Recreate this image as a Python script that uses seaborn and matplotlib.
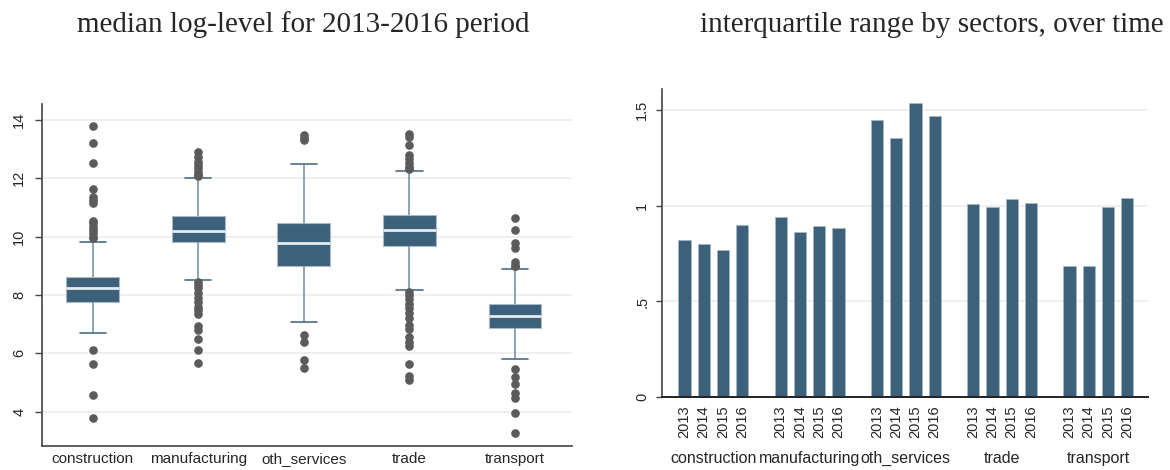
import numpy as np
import pandas as pd
import matplotlib
matplotlib.use("Agg")
import matplotlib.pyplot as plt
import matplotlib.transforms as mtransforms
import seaborn as sns

# ---------------- data ----------------
sectors = ["construction", "manufacturing", "oth_services", "trade", "transport"]
years = ["2013", "2014", "2015", "2016"]

# left panel: box-plot summaries of median log-level (2013-2016)
q1 = [7.77, 9.83, 8.98, 9.69, 6.86]
medians = [8.23, 10.21, 9.77, 10.23, 7.27]
q3 = [8.63, 10.72, 10.47, 10.73, 7.70]
whisker_lo = [6.69, 8.50, 7.07, 8.17, 5.79]
whisker_hi = [9.81, 12.00, 12.48, 12.24, 8.88]
outliers_construction = [13.81, 13.21, 12.51, 11.63, 11.37, 11.26, 11.14, 10.55, 10.46,
                         10.34, 10.23, 10.11, 10.00, 9.95, 6.11, 5.63, 4.58, 3.79]
outliers_manufacturing = [12.89, 12.74, 12.57, 12.46, 12.34, 12.23, 12.12, 12.08,
                          8.46, 8.34, 8.23, 8.06, 7.91, 7.77, 7.60, 7.47, 7.34, 6.95,
                          6.80, 6.48, 6.11, 5.68]
outliers_oth_services = [13.49, 13.37, 13.31, 6.64, 6.39, 5.77, 5.50]
outliers_trade = [13.51, 13.43, 13.14, 12.80, 12.65, 12.51, 12.40, 12.35, 12.31,
                  8.10, 8.00, 7.85, 7.69, 7.54, 7.37, 7.20, 6.96, 6.82, 6.55, 6.40,
                  6.25, 5.62, 5.23, 5.09]
outliers_transport = [10.63, 10.23, 9.79, 9.60, 9.12, 9.01, 8.99,
                      5.47, 5.20, 4.95, 4.63, 4.46, 3.97, 3.28]
outliers = [outliers_construction, outliers_manufacturing, outliers_oth_services,
            outliers_trade, outliers_transport]

# right panel: interquartile range by sector and year
iqr_construction = [0.82, 0.80, 0.77, 0.90]
iqr_manufacturing = [0.94, 0.865, 0.895, 0.885]
iqr_oth_services = [1.445, 1.355, 1.538, 1.468]
iqr_trade = [1.01, 0.995, 1.033, 1.015]
iqr_transport = [0.685, 0.687, 0.995, 1.038]
iqr_values = [iqr_construction, iqr_manufacturing, iqr_oth_services, iqr_trade, iqr_transport]

left_ticks = [4, 6, 8, 10, 12, 14]
left_ticklabels = ["4", "6", "8", "10", "12", "14"]
right_ticks = [0, 0.5, 1, 1.5]
right_ticklabels = ["0", ".5", "1", "1.5"]

left_title = "median log-level for 2013-2016 period"
right_title = "interquartile range by sectors, over time"

# ---------------- build tables ----------------
# sample reproducing the summary statistics
K = 200
rows = []
for s, name in enumerate(sectors):
    vals = ([whisker_lo[s]] + [q1[s]] * K + [medians[s]] * K + [q3[s]] * K
            + [whisker_hi[s]] + list(outliers[s]))
    rows += [(name, v) for v in vals]
box_df = pd.DataFrame(rows, columns=["sector", "value"])

bar_rows = []
for g, name in enumerate(sectors):
    for i, yr in enumerate(years):
        bar_rows.append((5 * g + i, name, yr, iqr_values[g][i]))
bar_df = pd.DataFrame(bar_rows, columns=["pos", "sector", "year", "iqr"])

# ---------------- style ----------------
sns.set_theme(style="white")
plt.rcParams["font.family"] = ["Liberation Sans", "DejaVu Sans"]

BOX = "#3d617b"
GRID = "#ebebeb"
SPINE = "#444444"

fig = plt.figure(figsize=(11.7, 4.7), dpi=100)
W, H = 1170, 470

def axes_px(x0, y0, x1, y1):
    return fig.add_axes([x0 / W, 1 - y1 / H, (x1 - x0) / W, (y1 - y0) / H])

# ---------------- left: boxplot ----------------
ax1 = axes_px(41.5, 104, 572, 445.5)
ax1.set_axisbelow(True)
for t in left_ticks:
    ax1.axhline(t, color=GRID, lw=1.1, zorder=0)
sns.boxplot(data=box_df, x="sector", y="value", order=sectors, color=BOX,
            saturation=1, width=0.5, ax=ax1,
            boxprops=dict(facecolor=BOX, edgecolor="#a8bac8", linewidth=0.8),
            medianprops=dict(color="#e6ecf0", linewidth=2.0),
            whiskerprops=dict(color="#7a93a7", linewidth=1.2),
            capprops=dict(color="#4d6d86", linewidth=1.2),
            flierprops=dict(marker="o", markerfacecolor="#5b5b5b",
                            markeredgecolor="#5b5b5b", markersize=5.2))
ax1.set_xlim(-0.485, 4.54)
ax1.set_ylim(2.84, 14.55)
ax1.set_yticks(left_ticks)
ax1.set_yticklabels(left_ticklabels)
ax1.set_xlabel("")
ax1.set_ylabel("")
ax1.grid(False)
for side in ["top", "right"]:
    ax1.spines[side].set_visible(False)
for side in ["left", "bottom"]:
    ax1.spines[side].set_color(SPINE)
    ax1.spines[side].set_linewidth(1.2)
ax1.tick_params(axis="y", length=5, width=1, color=SPINE, pad=6,
                labelsize=10.5, labelrotation=90, left=True)
ax1.tick_params(axis="x", length=0, pad=5, labelsize=11)
for lab in ax1.get_yticklabels():
    lab.set_va("center")

# ---------------- right: bars ----------------
ax2 = axes_px(661.7, 89, 1148, 397.3)
for t in right_ticks[1:]:
    ax2.axhline(t, color=GRID, lw=1.1, zorder=0)
sns.barplot(data=bar_df, x="pos", y="iqr", native_scale=True, color=BOX,
            saturation=1, width=0.64, edgecolor="#a8bac8", linewidth=0.5,
            errorbar=None, ax=ax2)
ax2.set_xlim(-1.18, 24.08)
ax2.set_ylim(0, 1.609)
ax2.set_xticks(bar_df["pos"].tolist())
ax2.set_xticklabels(bar_df["year"].tolist(), rotation=90)
ax2.set_yticks(right_ticks)
ax2.set_yticklabels(right_ticklabels)
ax2.set_xlabel("")
ax2.set_ylabel("")
ax2.grid(False)
for side in ["top", "right"]:
    ax2.spines[side].set_visible(False)
ax2.spines["left"].set_color(SPINE)
ax2.spines["left"].set_linewidth(1.2)
ax2.spines["bottom"].set_color("#222222")
ax2.spines["bottom"].set_linewidth(1.4)
ax2.tick_params(axis="y", length=4, width=1, color=SPINE, pad=5,
                labelsize=10.5, labelrotation=90, left=True)
ax2.tick_params(axis="x", length=0, pad=6, labelsize=10.5)
for lab in ax2.get_yticklabels():
    lab.set_va("center")

trans = mtransforms.blended_transform_factory(ax2.transData, ax2.transAxes)
for g, name in enumerate(sectors):
    ax2.text(5 * g + 1.5, -0.197, name, transform=trans, ha="center", va="center",
             fontsize=11.5)

# ---------------- titles ----------------
fig.text(303 / W, 1 - 25 / H, left_title, ha="center", va="center",
         fontsize=21, family=["Liberation Serif", "DejaVu Serif"])
fig.text(932 / W, 1 - 25 / H, right_title, ha="center", va="center",
         fontsize=21, family=["Liberation Serif", "DejaVu Serif"])

fig.savefig("out.png", dpi=100)
